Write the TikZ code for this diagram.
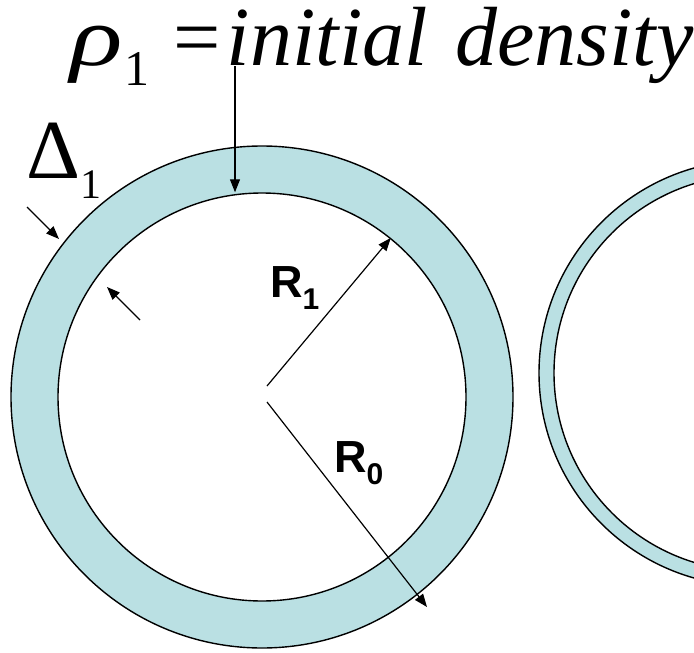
\documentclass[tikz,border=0pt]{standalone}
\usepackage{fontspec}
\setmainfont{Liberation Serif}
\newfontfamily\rgSans{Liberation Sans}
\usetikzlibrary{arrows.meta,positioning}
\definecolor{RGShell}{HTML}{BAE0E3}
\tikzset{
  rgBase/.style={
    circle,
    inner sep=0pt,
    line width=1.4pt,
    draw=black
  },
  rgShell/.style={
    rgBase,
    fill=RGShell
  },
  rgCore/.style={
    rgBase,
    fill=white
  },
  rgArrow/.style={
    line width=1.2pt,
    -{Triangle[length=13pt,width=10pt]}
  },
  rgSym/.style={
    font=\fontsize{84pt}{84pt}\selectfont,
    inner sep=0pt,
    anchor=base west
  },
  rgRad/.style={
    font=\rgSans\bfseries\fontsize{45pt}{45pt}\selectfont,
    inner sep=0pt,
    anchor=base west
  }
}

\begin{document}
\begin{tikzpicture}[x=1pt, y=-1pt]
    \useasboundingbox (0,0) rectangle (694,653);
    \clip (0,0) rectangle (694,653);

    % Shell at time 1
    \node (outerA) [rgShell, minimum size=502pt] at (262,397) {};
    \node (innerA) [rgCore, minimum size=408pt] at (262,397) {};

    % Thinner shell, cut by the edge
    \node (outerB) [rgShell, minimum size=426pt] at (752,373) {};
    \node (innerB) [rgCore, minimum size=396pt] at (752,373) {};

    % Labels
    \node (rho) [rgSym] at (70,65) {%
      \scalebox{1.3}[1]{\textit{ρ}}\hspace{2pt}\raisebox{-20pt}{\fontsize{50pt}{50pt}\selectfont 1}\hspace{24pt}=\hspace{6pt}\textit{initial\hspace{0.33em}density}};
    \node (delta) [rgSym] at (26,178) {%
      Δ\raisebox{-20pt}{\fontsize{42pt}{42pt}\selectfont 1}};
    \node (labR1) [rgRad] at (270,297) {%
      R\raisebox{-12pt}{\fontsize{30pt}{30pt}\selectfont 1}};
    \node (labR0) [rgRad] at (334,472) {%
      R\raisebox{-12pt}{\fontsize{30pt}{30pt}\selectfont 0}};

    % Arrow ends
    \coordinate (rhoFoot) at (235,66);
    \coordinate (hubA) at (267,386);
    \coordinate (hubB) at (267,402);
    \coordinate (tipB) at (427,607);
    \coordinate (dOutTail) at (27,207);
    \coordinate (dOutTip) at (59,239);
    \coordinate (dInTail) at (140,320);
    \coordinate (dInTip) at (107,287);

    \draw [rgArrow] (rhoFoot) -- (rhoFoot |- innerA.north);
    \draw [rgArrow] (hubA) -- (innerA.51);
    \draw [rgArrow] (hubB) -- (tipB);
    \draw [rgArrow] (dOutTail) -- (dOutTip);
    \draw [rgArrow] (dInTail) -- (dInTip);
\end{tikzpicture}
\end{document}
